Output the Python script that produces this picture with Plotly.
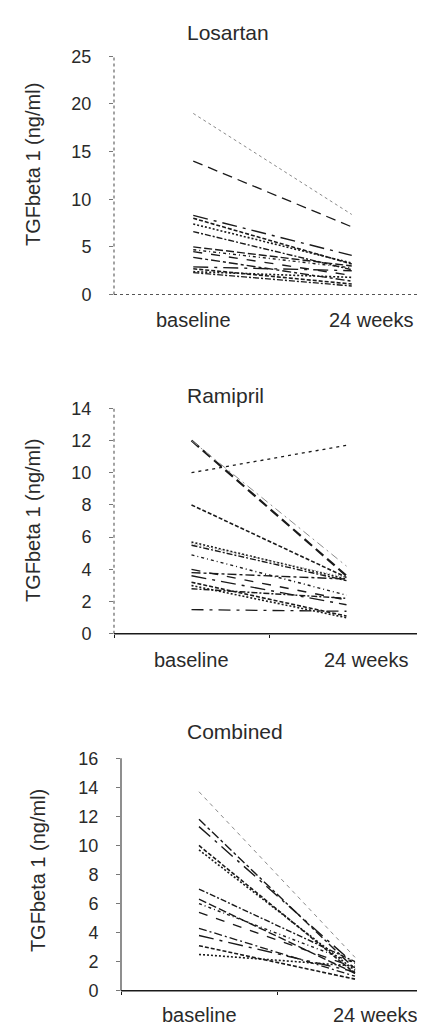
import plotly.graph_objects as go

# ---------------- data ----------------
TIMEPOINTS = ["baseline", "24 weeks"]

LOSARTAN_BASELINE = [19.0, 14.0, 8.3, 8.0, 7.4, 6.6, 5.0, 4.7, 4.5, 3.9, 2.9, 2.7, 2.4, 2.3]
LOSARTAN_WEEK24 = [8.4, 7.1, 4.1, 3.2, 3.3, 2.6, 3.0, 2.8, 2.0, 1.4, 2.5, 1.1, 1.8, 0.9]

RAMIPRIL_BASELINE = [12.0, 12.0, 10.0, 8.0, 5.7, 5.5, 5.6, 4.9, 4.0, 3.8, 3.6, 3.2, 3.0, 2.8, 1.5]
RAMIPRIL_WEEK24 = [3.6, 4.2, 11.7, 3.5, 3.4, 3.3, 3.5, 2.4, 2.1, 3.4, 1.8, 1.1, 1.0, 2.2, 1.4]

COMBINED_BASELINE = [13.7, 11.8, 11.3, 10.0, 9.7, 7.0, 6.3, 6.0, 5.4, 4.3, 3.8, 3.1, 2.5]
COMBINED_WEEK24 = [2.3, 1.5, 1.8, 1.2, 1.4, 2.0, 1.2, 1.9, 1.6, 1.0, 1.3, 0.8, 1.7]

PANEL_TITLES = ["Losartan", "Ramipril", "Combined"]
Y_TITLE = "TGFbeta 1 (ng/ml)"
Y_RANGES = [[0, 25], [0, 14], [0, 16]]
Y_DTICKS = [5, 2, 2]

# ---------------- styles ----------------
BLACK = "#1a1a1a"
TEXT = "#2a2a2a"
GREY = "#8a8a8a"
FONT = "Liberation Sans, Arial, Helvetica, sans-serif"

CYCLE = [
    ("dash", BLACK, 1.4),
    ("dashdot", BLACK, 1.4),
    ("longdashdot", BLACK, 1.4),
    ("4px,2px", BLACK, 1.6),
    ("2px,2px", BLACK, 1.6),
    ("6px,2px,2px,2px", BLACK, 1.4),
    ("8px,3px", BLACK, 1.4),
    ("3px,3px,1px,3px", BLACK, 1.4),
]

LOS_SPECIAL = {0: ("dot", GREY, 1.0), 1: ("10px,6px", BLACK, 1.3)}
RAM_SPECIAL = {0: ("10px,5px", BLACK, 2.2), 1: ("8px,4px,2px,4px", GREY, 1.0),
               2: ("3px,4px", BLACK, 1.3), 6: ("1px,2px", GREY, 1.0),
               14: ("12px,6px,3px,6px", BLACK, 1.3)}
COM_SPECIAL = {0: ("4px,4px", GREY, 1.0), 9: ("8px,3px,2px,3px", BLACK, 1.3)}

panels = [
    (LOSARTAN_BASELINE, LOSARTAN_WEEK24, LOS_SPECIAL),
    (RAMIPRIL_BASELINE, RAMIPRIL_WEEK24, RAM_SPECIAL),
    (COMBINED_BASELINE, COMBINED_WEEK24, COM_SPECIAL),
]

W, H = 425, 1030
# plot areas in pixels: (left, right, top, bottom)
AREAS = [(106, 423, 39, 282), (106, 416, 398, 628), (113, 425, 755, 992)]

fig = go.Figure()
for p, (base, wk, special) in enumerate(panels):
    suffix = "" if p == 0 else str(p + 1)
    for i, (b, e) in enumerate(zip(base, wk)):
        dash, color, width = special.get(i, CYCLE[i % len(CYCLE)])
        fig.add_trace(go.Scatter(
            x=TIMEPOINTS, y=[b, e], mode="lines",
            line=dict(color=color, width=width, dash=dash),
            xaxis="x" + suffix, yaxis="y" + suffix,
            showlegend=False, hoverinfo="skip"))

layout = dict(
    width=W, height=H, margin=dict(l=0, r=0, t=0, b=0),
    paper_bgcolor="white", plot_bgcolor="white",
    font=dict(family=FONT, color=TEXT, size=17),
    showlegend=False,
)

annotations = []
shapes = []
title_pos = [(220, 15), (217, 385), (227, 728)]
ytitle_pos = [(25, 150), (25, 513), (30, 870)]
xlabel_y = [308, 655, 1017]

for p in range(3):
    l, r, t, b = AREAS[p]
    suffix = "" if p == 0 else str(p + 1)
    xa = "xaxis" + suffix
    ya = "yaxis" + suffix
    layout[xa] = dict(
        domain=[l / W, r / W], anchor="y" + suffix, type="category",
        categoryorder="array", categoryarray=TIMEPOINTS,
        range=[-0.5, 1.5], showgrid=False, zeroline=False, showline=False,
        showticklabels=False, ticks="outside" if p > 0 else "",
        tickson="boundaries", ticklen=3, tickcolor=BLACK,
    )
    layout[ya] = dict(
        domain=[1 - b / H, 1 - t / H], anchor="x" + suffix,
        range=Y_RANGES[p], dtick=Y_DTICKS[p], tick0=0,
        showgrid=False, zeroline=False, showline=False,
        ticks="outside", ticklen=4, tickcolor="#777", tickwidth=1,
        ticklabelstandoff=14,
        tickfont=dict(size=18, color=TEXT, family=FONT),
    )
    # axis lines
    y_col = "#666" if p < 2 else "#444"
    shapes.append(dict(type="line", xref="x" + suffix + " domain", yref="y" + suffix + " domain",
                       x0=0, x1=0, y0=0, y1=1,
                       line=dict(color=y_col, width=1.2, dash="dot" if p < 2 else "solid")))
    if p == 0:
        xl = dict(color="#555", width=1.2, dash="dot")
    else:
        xl = dict(color=BLACK, width=1.4, dash="solid")
    shapes.append(dict(type="line", xref="x" + suffix + " domain", yref="y" + suffix + " domain",
                       x0=0, x1=1, y0=0, y1=0, line=xl))
    # panel titles
    tx, ty = title_pos[p]
    annotations.append(dict(text=PANEL_TITLES[p], x=tx / W, y=1 - ty / H, xref="paper", yref="paper",
                            showarrow=False, xanchor="center", yanchor="middle",
                            font=dict(size=21, color=TEXT, family=FONT)))
    # y titles
    yx, yy = ytitle_pos[p]
    annotations.append(dict(text=Y_TITLE, x=yx / W, y=1 - yy / H, xref="paper", yref="paper",
                            showarrow=False, textangle=-90, xanchor="center", yanchor="middle",
                            font=dict(size=20, color=TEXT, family=FONT)))
    # x category labels
    for k, lab in enumerate(TIMEPOINTS):
        annotations.append(dict(text=lab, x=lab, xref="x" + suffix, y=1 - xlabel_y[p] / H, yref="paper",
                                showarrow=False, xanchor="center", yanchor="middle",
                                xshift=20 if k == 1 else 0,
                                font=dict(size=20, color=TEXT, family=FONT)))

layout["annotations"] = annotations
layout["shapes"] = shapes
fig.update_layout(**layout)
fig.write_html("out.html")
